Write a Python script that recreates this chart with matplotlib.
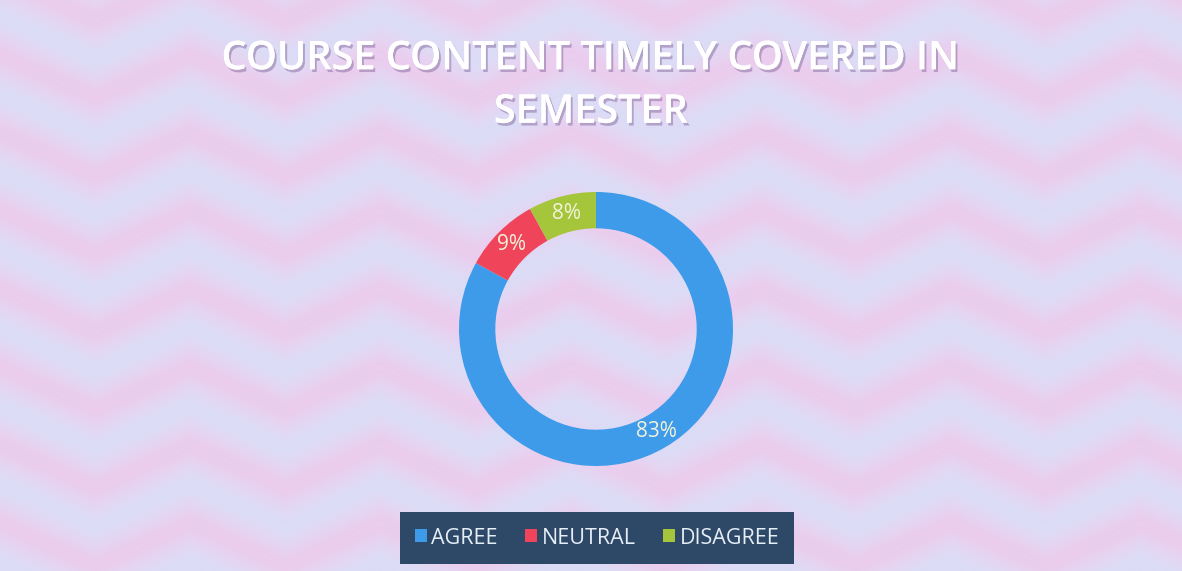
import numpy as np
import matplotlib.pyplot as plt
import matplotlib.patheffects as pe
from matplotlib.colors import LinearSegmentedColormap
from matplotlib.patches import Patch

# chart data
labels = ['AGREE', 'NEUTRAL', 'DISAGREE']
values = [83, 9, 8]
colors = ['#3d9be9', '#f0445a', '#a5c63b']
title = 'COURSE CONTENT TIMELY COVERED IN\nSEMESTER'

W, H, DPI = 1182, 571, 100
fig = plt.figure(figsize=(W / DPI, H / DPI), dpi=DPI)

# wavy lavender/pink backdrop
bg = fig.add_axes([0, 0, 1, 1])
yy, xx = np.mgrid[0:H, 0:W]
zig = np.abs(((xx / 95.0) % 2) - 1)
wave = np.sin(2 * np.pi * (yy / 78.0 + 0.55 * zig))
cmap = LinearSegmentedColormap.from_list('bgw', ['#dcdcf6', '#e4d6f3', '#ebcdee'])
bg.imshow(wave, cmap=cmap, aspect='auto', extent=[0, W, H, 0])
bg.set_xlim(0, W)
bg.set_ylim(H, 0)
bg.axis('off')

# donut
cx, cy, r = 596, 329, 137
ax = fig.add_axes([(cx - r) / W, (H - cy - r) / H, 2 * r / W, 2 * r / H])
wedges, texts, autotexts = ax.pie(
    values, colors=colors, startangle=90, counterclock=False,
    radius=1.0, autopct='%1.0f%%', pctdistance=0.87,
    wedgeprops=dict(width=0.265, edgecolor='none'),
    textprops=dict(color='#f2f2dc', fontsize=15, family='Open Sans'))
ax.set_xlim(-1, 1)
ax.set_ylim(-1, 1)
ax.set_aspect('equal')
ax.axis('off')

# title
fig.text(0.5, 1 - 86 / H, title, ha='center', va='center', fontsize=28.5,
         family='Open Sans', fontweight='semibold', color='white', linespacing=1.45,
         path_effects=[pe.withSimplePatchShadow(offset=(1.5, -2), shadow_rgbFace='#7a5f95', alpha=0.45),
                       pe.Normal()])

# legend
handles = [Patch(facecolor=c, edgecolor='none') for c in colors]
leg = fig.legend(handles, labels, loc='center', bbox_to_anchor=(597 / W, 1 - 538 / H),
                 ncol=3, frameon=True, handlelength=0.55, handleheight=0.55,
                 handletextpad=0.2, columnspacing=1.3, borderpad=0.5,
                 prop=dict(family='Open Sans', size=15.5))
leg.get_frame().set_facecolor('#2e4868')
leg.get_frame().set_edgecolor('none')
leg.get_frame().set_alpha(1)
leg.get_frame().set_boxstyle('square', pad=0.2)
for t in leg.get_texts():
    t.set_color('#e6eef6')

fig.savefig('out.png', dpi=DPI)
